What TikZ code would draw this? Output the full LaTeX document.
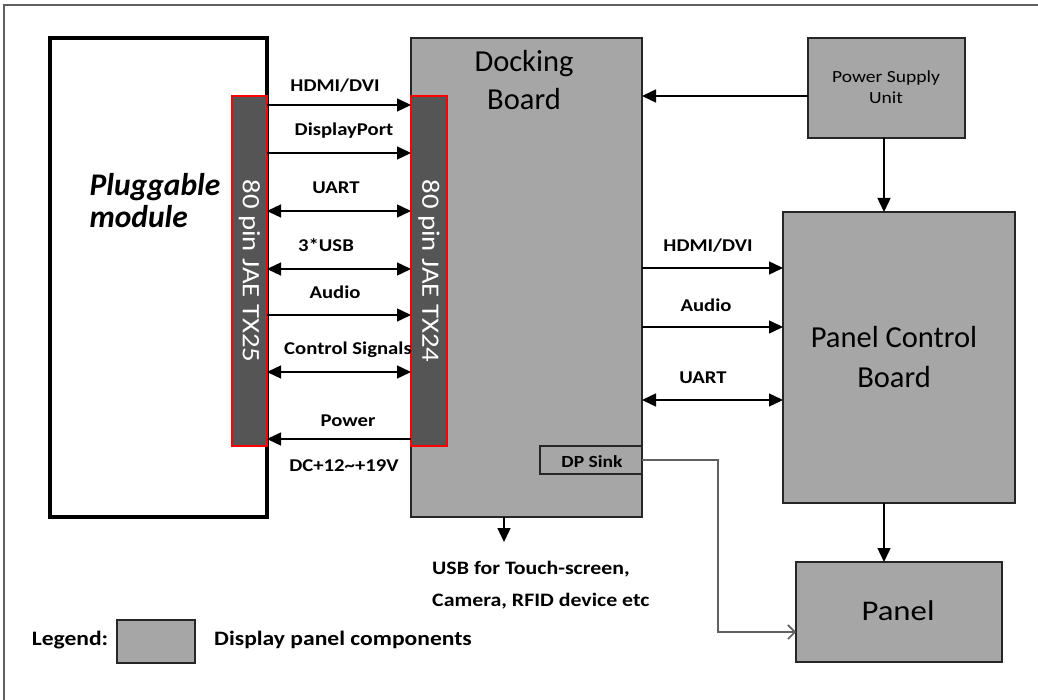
\documentclass[tikz,border=0pt]{standalone}
\usepackage{fontspec}
\setmainfont{Carlito}
\newfontfamily\wide[FakeStretch=1.15]{Carlito}
\usetikzlibrary{arrows.meta}
\definecolor{boxgray}{HTML}{A6A6A6}
\definecolor{conngray}{HTML}{555555}
\definecolor{linegray}{HTML}{606060}
\begin{document}
\begin{tikzpicture}[x=1pt,y=-1pt,
  graybox/.style={draw=black!85, line width=1.5pt, fill=boxgray, inner sep=0pt, outer sep=0pt},
  connbox/.style={draw=red, line width=1.3pt, fill=conngray, inner sep=0pt, outer sep=0pt},
  lbl/.style={font=\wide\bfseries\fontsize{18}{20}\selectfont, inner sep=0pt},
  sig/.style={line width=1.4pt, -{Triangle[length=14pt,width=13pt]}},
  bsig/.style={line width=1.4pt, {Triangle[length=14pt,width=13pt]}-{Triangle[length=14pt,width=13pt]}},
  bigtxt/.style={font=\fontsize{30.5}{38}\selectfont, align=center},
  conntxt/.style={rotate=-90, text=white, font=\wide\fontsize{25}{26}\selectfont}
]
\useasboundingbox (0,0) rectangle (1038,700);
\draw[linegray, line width=1.5pt] (1038,5) -- (4,5) -- (4,700);

% pluggable module
\node[draw=black, line width=4pt, fill=white, minimum width=217pt, minimum height=479pt, inner sep=0pt, outer sep=0pt] (pm) at (158.5,277.5) {};
\node[font=\bfseries\itshape\fontsize{31.5}{32}\selectfont, align=left, anchor=west] (pmt) at (86,201) {Pluggable\\module};
\node[connbox, minimum width=35pt, minimum height=350pt] (tx25) at (249.5,271) {};
\node[conntxt] (tx25t) at (tx25.center) {80 pin JAE TX25};

% docking board
\node[graybox, minimum width=231pt, minimum height=479pt] (dock) at (526.5,277.5) {};
\node[bigtxt, anchor=north] (dockt) at (524,47) {Docking\\Board};
\node[connbox, minimum width=36pt, minimum height=350pt] (tx24) at (429,271) {};
\node[conntxt] (tx24t) at (tx24.center) {80 pin JAE TX24};
\node[graybox, minimum width=102pt, minimum height=28pt] (dps) at (591,460) {};
\node[lbl, font=\wide\bfseries\fontsize{17}{18}\selectfont] (dpst) at (592,462) {DP Sink};

% power supply
\node[graybox, minimum width=157pt, minimum height=100pt] (psu) at (886.5,88) {};
\node[font=\wide\fontsize{17}{21}\selectfont, align=center] (psut) at (886,87) {Power Supply\\Unit};

% panel control board
\node[graybox, minimum width=232pt, minimum height=291pt] (pcb) at (899,357.5) {};
\node[bigtxt, font=\fontsize{30.5}{40}\selectfont] (pcbt) at (894,357) {Panel Control\\Board};

% panel
\node[graybox, minimum width=206pt, minimum height=100pt] (panel) at (899,612) {};
\node[font=\wide\fontsize{28.5}{30}\selectfont] (panelt) at (898,611) {Panel};

% left signals
\draw[sig]  (tx25.east |- 0,105) -- (tx24.west |- 0,105);
\node[lbl] (l1) at (335,86) {HDMI/DVI};
\draw[sig]  (tx25.east |- 0,153) -- (tx24.west |- 0,153);
\node[lbl] (l2) at (344,131) {DisplayPort};
\draw[bsig] (tx25.east |- 0,211) -- (tx24.west |- 0,211);
\node[lbl] (l3) at (336,188) {UART};
\draw[bsig] (tx25.east |- 0,269) -- (tx24.west |- 0,269);
\node[lbl] (l4) at (326,245) {3*USB};
\draw[sig]  (tx25.east |- 0,315) -- (tx24.west |- 0,315);
\node[lbl] (l5) at (335,292) {Audio};
\draw[bsig] (tx25.east |- 0,372) -- (tx24.west |- 0,372);
\node[lbl] (l6) at (348,350) {Control Signals};
\draw[sig]  (tx24.west |- 0,439) -- (tx25.east |- 0,439);
\node[lbl] (l7) at (348,421) {Power};
\node[lbl] (l8) at (344,466) {DC+12\textasciitilde+19V};

% right signals
\draw[sig]  (dock.east |- 0,268) -- (pcb.west |- 0,268);
\node[lbl] (r1) at (708,246) {HDMI/DVI};
\draw[sig]  (dock.east |- 0,327) -- (pcb.west |- 0,327);
\node[lbl] (r2) at (706,305) {Audio};
\draw[bsig] (dock.east |- 0,400) -- (pcb.west |- 0,400);
\node[lbl] (r3) at (703,378) {UART};

% power / control vertical
\draw[sig] (psu.west |- 0,96) -- (dock.east |- 0,96);
\draw[sig] (psu.south -| 884,0) -- (pcb.north -| 884,0);
\draw[sig] (pcb.south -| 884,0) -- (panel.north -| 884,0);

% DP sink to panel
\coordinate (bend1) at (718,460);
\coordinate (bend2) at (718,632);
\draw[linegray, line width=1.6pt, -{Straight Barb[length=7pt,width=14pt]}] (dps.east) -- (bend1) -- (bend2) -- (panel.west |- bend2);

% USB
\coordinate (usb) at (504,542);
\draw[sig] (dock.south -| usb) -- (usb);
\node[lbl, font=\wide\bfseries\fontsize{19}{32}\selectfont, anchor=west, align=left] (usbt) at (432,585) {USB for Touch-screen,\\Camera, RFID device etc};

% legend
\node[lbl, font=\wide\bfseries\fontsize{20.5}{22}\selectfont] (legt) at (70,640) {Legend:};
\node[graybox, minimum width=78pt, minimum height=43pt] (legbox) at (156,641.5) {};
\node[lbl, font=\wide\bfseries\fontsize{20.5}{22}\selectfont, anchor=west] (legd) at (214,640) {Display panel components};
\end{tikzpicture}
\end{document}
